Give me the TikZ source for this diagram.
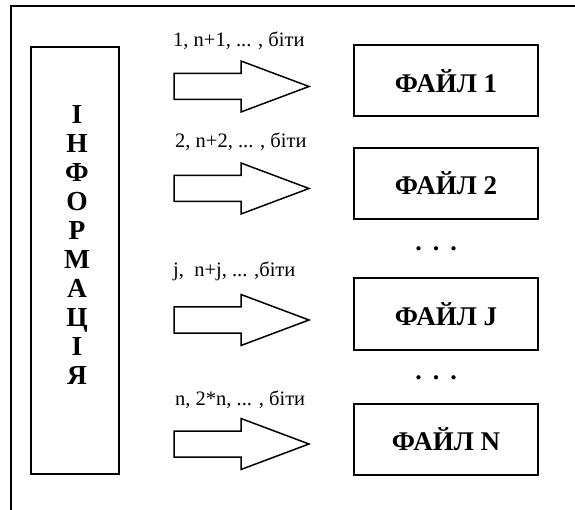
\documentclass[tikz,border=0pt]{standalone}
\usepackage{fontspec}
\setmainfont{Liberation Serif}
\begin{document}
\begin{tikzpicture}[x=1pt,y=-1pt,
  frameline/.style={line width=2pt, line cap=rect},
  filebox/.style={draw, line width=2pt, minimum width=184pt, minimum height=71pt,
    inner sep=0pt, font=\fontsize{27}{30}\selectfont\bfseries},
  infobox/.style={draw, line width=2pt, minimum width=88pt, minimum height=427pt, inner sep=0pt},
  bitlabel/.style={anchor=base west, inner sep=0pt, font=\fontsize{20.5}{24}\selectfont},
  dotrow/.style={anchor=base, inner sep=0pt, font=\fontsize{26}{30}\selectfont\bfseries},
  blockarrow/.pic={\draw[line width=1.5pt, line join=miter]
     (0,-13) -- (67,-13) -- (67,-25.5) -- (135,0) -- (67,25.5) -- (67,13) -- (0,13) -- cycle;}
]
\useasboundingbox (0,0) rectangle (575,510);

% open outer frame: top and left sides only
\draw[frameline] (575,6) -- (11,6) -- (11,510);

% source column
\node[infobox] (info) at (75,260.5) {};
\node[align=center, inner sep=0pt, font=\fontsize{27.5}{29.1}\selectfont\bfseries] (infotext) at (77,245)
  {І\\Н\\Ф\\О\\Р\\М\\А\\Ц\\І\\Я};

% target files
\node[filebox] (f1) at (446,81) {ФАЙЛ 1};
\node[filebox] (f2) at (446,183.5) {ФАЙЛ 2};
\node[filebox] (fj) at (446,314) {ФАЙЛ J};
\node[filebox] (fn) at (446,439) {ФАЙЛ N};

% gaps between files
\node[dotrow] (d1) at (436,251) {.\hspace{11pt}.\hspace{11pt}.};
\node[dotrow] (d2) at (436,379) {.\hspace{11pt}.\hspace{11pt}.};

% bit labels
\node[bitlabel] (l1) at (173,47) {1, n+1, ... , біти};
\node[bitlabel] (l2) at (175,148) {2, n+2, ... , біти};
\node[bitlabel] (lj) at (173,277) {j,\ \ n+j, ... ,біти};
\node[bitlabel] (ln) at (175,405) {n, 2*n, ... , біти};

% distribution arrows
\pic at (174,86.5) {blockarrow};
\pic at (174,188.5) {blockarrow};
\pic at (174,320) {blockarrow};
\pic at (174,444) {blockarrow};
\end{tikzpicture}
\end{document}
